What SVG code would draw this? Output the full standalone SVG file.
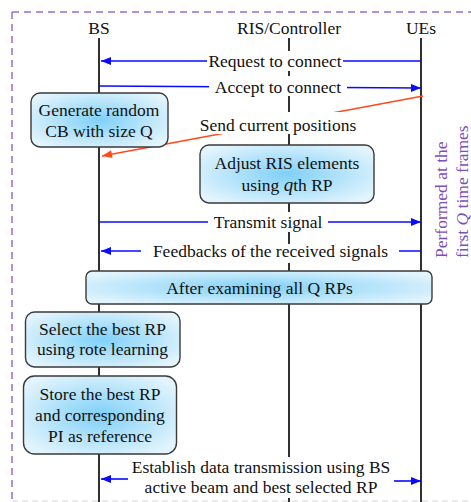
<svg xmlns="http://www.w3.org/2000/svg" width="471" height="502" viewBox="0 0 471 502" font-family="Liberation Serif, serif">
  <style>
    text { font-family: 'Liberation Serif', serif; font-size: 17.5px; fill: #111; }
    .mid { text-anchor: middle; }
    .life { stroke: #1a1a1a; stroke-width: 1.8; fill: none; }
    .msg { stroke: #0a0aff; stroke-width: 1.6; fill: none; }
    .pos { stroke: #ff4a1c; stroke-width: 1.6; fill: none; }
    .lbg { fill: #ffffff; }
    .box { fill: url(#boxfill); stroke: #3a3a3a; stroke-width: 1.4; }
    .note { fill: #7d4fb8; }
  </style>
  <defs>
    <radialGradient id="boxfill" cx="0.5" cy="0.5" r="0.6">
      <stop offset="0" stop-color="#7fd0f8"/>
      <stop offset="1" stop-color="#e2f4fd"/>
    </radialGradient>
    <marker id="ah-blue" viewBox="0 0 10 8" refX="10" refY="4" markerWidth="11" markerHeight="8" orient="auto" markerUnits="userSpaceOnUse">
      <path d="M0,0 L10,4 L0,8 z" fill="#0a0aff"/>
    </marker>
    <marker id="ah-red" viewBox="0 0 10 8" refX="10" refY="4" markerWidth="11" markerHeight="8" orient="auto" markerUnits="userSpaceOnUse">
      <path d="M0,0 L10,4 L0,8 z" fill="#ff4a1c"/>
    </marker>
  </defs>

  <!-- frame -->
  <g id="frame" fill="none">
    <path d="M12,12 H471" stroke="#9a6fd2" stroke-width="1.5" stroke-dasharray="7,5"/>
    <path d="M12,12 V502" stroke="#9a6fd2" stroke-width="1.5" stroke-dasharray="7,5"/>
    <path d="M12,501 H471" stroke="#d8d8d8" stroke-width="1" stroke-dasharray="6,4"/>
  </g>

  <!-- lifelines -->
  <g id="lifelines">
    <text class="mid" x="99" y="34">BS</text>
    <text class="mid" x="289" y="34">RIS/Controller</text>
    <text class="mid" x="421" y="34">UEs</text>
    <path class="life" d="M99,38 V502"/>
    <path class="life" d="M289,38 V502"/>
    <path class="life" d="M421,38 V502"/>
  </g>

  <!-- messages -->
  <g id="connectors">
    <path class="msg" d="M421,61 H101" marker-end="url(#ah-blue)"/>
    <path class="msg" d="M99,86 L421,88" marker-end="url(#ah-blue)"/>
    <path class="pos" d="M423,96 L102,156" marker-end="url(#ah-red)"/>
    <path class="msg" d="M99,222 H421" marker-end="url(#ah-blue)"/>
    <path class="msg" d="M421,251 H101" marker-end="url(#ah-blue)"/>
    <path class="msg" d="M128,479 H101" marker-end="url(#ah-blue)"/>
    <path class="msg" d="M394,481 H421" marker-end="url(#ah-blue)"/>
  </g>

  <!-- message labels -->
  <g id="labels">
    <rect class="lbg" x="207" y="51" width="136" height="20"/>
    <text class="mid" x="275" y="67">Request to connect</text>
    <rect class="lbg" x="209" y="76" width="138" height="20"/>
    <text class="mid" x="278" y="93">Accept to connect</text>
    <rect class="lbg" x="197" y="112" width="162" height="22"/>
    <text class="mid" x="278" y="131">Send current positions</text>
    <rect class="lbg" x="208" y="212" width="120" height="20"/>
    <text class="mid" x="268" y="228">Transmit signal</text>
    <rect class="lbg" x="141" y="244" width="258" height="19"/>
    <text class="mid" x="270.5" y="257">Feedbacks of the received signals</text>
    <rect class="lbg" x="128" y="457" width="266" height="41"/>
    <text class="mid" x="261" y="473">Establish data transmission using BS</text>
    <text class="mid" x="261" y="493">active beam and best selected RP</text>
  </g>

  <!-- process boxes -->
  <g id="generate-cb">
    <rect class="box" x="31" y="93" width="137" height="54" rx="9"/>
    <text class="mid" x="99" y="116">Generate random</text>
    <text class="mid" x="99" y="137">CB with size Q</text>
  </g>
  <g id="adjust-ris">
    <rect class="box" x="200" y="145" width="174" height="58" rx="9"/>
    <text class="mid" x="287" y="169">Adjust RIS elements</text>
    <text class="mid" x="287" y="191">using <tspan font-style="italic" font-size="19">q</tspan>th RP</text>
  </g>
  <g id="after-all">
    <rect class="box" x="86" y="271" width="346" height="33" rx="6"/>
    <text class="mid" x="259.5" y="294">After examining all Q RPs</text>
  </g>
  <g id="select-best">
    <rect class="box" x="25.5" y="312" width="154.5" height="55" rx="9"/>
    <text class="mid" x="102.5" y="335">Select the best RP</text>
    <text class="mid" x="102.5" y="355">using rote learning</text>
  </g>
  <g id="store-best">
    <rect class="box" x="23.5" y="376" width="153" height="78" rx="11"/>
    <text class="mid" x="100" y="400">Store the best RP</text>
    <text class="mid" x="100" y="421">and corresponding</text>
    <text class="mid" x="100" y="442">PI as reference</text>
  </g>

  <!-- repetition note -->
  <g id="note">
    <text class="note" transform="translate(447,258) rotate(-90)">Performed at the</text>
    <text class="note" transform="translate(468,258) rotate(-90)">first <tspan font-style="italic">Q</tspan> time frames</text>
  </g>
</svg>
